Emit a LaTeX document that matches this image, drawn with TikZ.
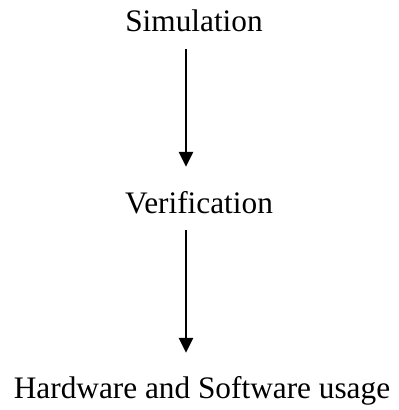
\documentclass[tikz,border=0pt]{standalone}
\usepackage{fontspec}
\setmainfont{Liberation Serif}
\usetikzlibrary{arrows.meta,calc}
\begin{document}
\begin{tikzpicture}[x=1bp,y=-1bp,
  lbl/.style={inner sep=0pt,anchor=base,text height=22bp,text depth=7bp,font=\fontsize{31.3bp}{37bp}\selectfont},
  arr/.style={line width=2.5bp,-{Triangle[width=14bp,length=15bp]}}]
\useasboundingbox (0,0) rectangle (399,410);
\node[lbl] (sim) at (194,31) {Simulation};
\node[lbl] (ver) at (199,213) {Verification};
\node[lbl] (hw) at (202,398) {Hardware and Software usage};
\draw[arr] ($(sim.south)+(-8,11)$) -- ($(ver.north)+(-13,-24)$);
\draw[arr] ($(ver.south)+(-13,10)$) -- ($(hw.north)+(-16,-23)$);
\end{tikzpicture}
\end{document}
